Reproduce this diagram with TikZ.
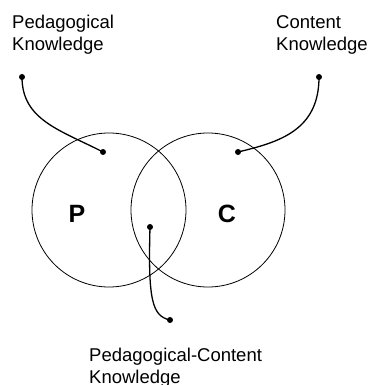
\documentclass[tikz,border=0pt]{standalone}
\usepackage{fontspec}
\setmainfont{Liberation Sans}
\begin{document}
\begin{tikzpicture}[x=1pt,y=-1pt,
  venn/.style={draw,circle,minimum size=154pt,inner sep=0pt,line width=0.8pt},
  dot/.style={circle,fill,inner sep=0pt,minimum size=6pt},
  conn/.style={line width=1.3pt},
  lbl/.style={anchor=north west,inner sep=0pt,align=left,font=\fontsize{18.5}{22}\selectfont},
  big/.style={font=\fontsize{25}{30}\selectfont\bfseries}]
\useasboundingbox (0,0) rectangle (368,385);
\node[venn] (Pc) at (109,210) {};
\node[venn] (Cc) at (208,210) {};
\node[big] (P) at (77,214) {P};
\node[big] (C) at (227,214) {C};
\node[lbl] (pk) at (12,15) {Pedagogical\\Knowledge};
\node[lbl] (ck) at (276,15) {Content\\Knowledge};
\node[lbl] (pck) at (89,348) {Pedagogical-Content\\Knowledge};
\node[dot] (a1) at (22,77) {};
\node[dot] (a2) at (103,152) {};
\node[dot] (b1) at (319,77) {};
\node[dot] (b2) at (238,152) {};
\node[dot] (c1) at (150,227) {};
\node[dot] (c2) at (170,320) {};
\draw[conn] (a1.center) .. controls (22,120) and (60,130) .. (a2.center);
\draw[conn] (b1.center) .. controls (319,130) and (280,142) .. (b2.center);
\draw[conn] (c1.center) .. controls (148,300) and (152,316) .. (c2.center);
\end{tikzpicture}
\end{document}
